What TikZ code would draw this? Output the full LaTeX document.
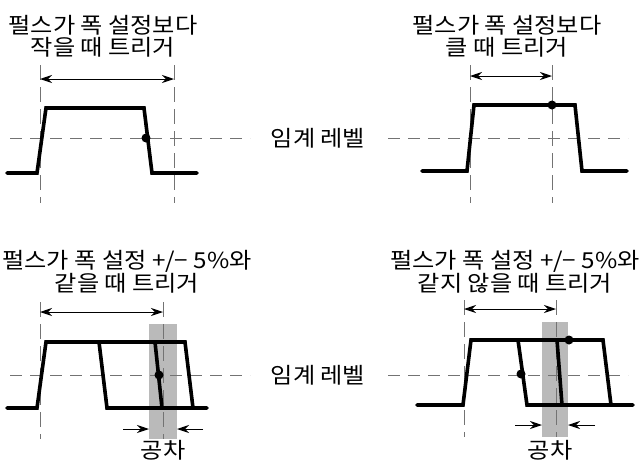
\documentclass[tikz,border=0pt]{standalone}
\usepackage{fontspec}
\setmainfont[FakeStretch=1.1]{Noto Sans CJK KR}
\usetikzlibrary{arrows.meta}
\tikzset{
  pulse/.style={line width=3.6pt, line join=miter, line cap=round},
  thr/.style={draw=black!55, line width=0.8pt, dash pattern=on 12pt off 8pt},
  vln/.style={draw=black!55, line width=0.8pt, dash pattern=on 15pt off 7pt},
  dim/.style={line width=1pt, {Stealth[length=12pt,width=8pt]}-{Stealth[length=12pt,width=8pt]}},
  tol/.style={line width=1pt, -{Stealth[length=12pt,width=8pt]}},
  dot/.style={fill=black},
  band/.style={fill=black!27},
  lbl/.style={font=\fontsize{22}{22}\selectfont, align=center, inner sep=0pt},
}
\begin{document}
\begin{tikzpicture}[x=1pt,y=-1pt]
\useasboundingbox (0,0) rectangle (641,464);
% ---------- top-left ----------
\node[lbl] (t1) at (103,36) {펄스가 폭 설정보다\\작을 때 트리거};
\draw[thr] (10,138) -- (250,138);
\draw[vln] (40,65) -- (40,203);
\draw[vln] (174,65) -- (174,203);
\coordinate (a1l) at (40,79); \coordinate (a1r) at (174,79);
\draw[dim] (a1l) -- (a1r);
\draw[pulse] (7,173) -- (37,173) -- (46,108) -- (144,108) -- (152,173) -- (197,173);
\fill[dot] (146,138) circle (4.5pt);
% ---------- top-right ----------
\node[lbl] (t2) at (507,36) {펄스가 폭 설정보다\\클 때 트리거};
\draw[thr] (388,138) -- (628,138);
\draw[vln] (470,65) -- (470,203);
\draw[vln] (552,65) -- (552,203);
\coordinate (a2l) at (470,76); \coordinate (a2r) at (552,76);
\draw[dim] (a2l) -- (a2r);
\draw[pulse] (422,171) -- (467,171) -- (474,105) -- (575,105) -- (582,171) -- (627,171);
\fill[dot] (552,105) circle (4.5pt);
% ---------- middle labels ----------
\node[lbl] (lv1) at (318,138) {임계 레벨};
\node[lbl] (lv2) at (318,375) {임계 레벨};
% ---------- bottom-left ----------
\node[lbl] (t3) at (127,272) {펄스가 폭 설정 +/− 5\%와\\같을 때 트리거};
\fill[band] (149,324) rectangle (177,439);
\draw[thr] (10,375) -- (250,375);
\draw[vln] (40,302) -- (40,439);
\draw[vln] (163,302) -- (163,439);
\coordinate (a3l) at (40,312); \coordinate (a3r) at (163,312);
\draw[dim] (a3l) -- (a3r);
\draw[pulse] (7,408) -- (37,408) -- (46,342) -- (185,342) -- (193,408) -- (207,408);
\draw[pulse] (99,342) -- (107,408) -- (193,408);
\draw[pulse] (155,342) -- (162,408);
\fill[dot] (159,375) circle (4.5pt);
\coordinate (b3l) at (123,429); \coordinate (b3r) at (203,429);
\coordinate (c3l) at (149,429); \coordinate (c3r) at (177,429);
\draw[tol] (b3l) -- (c3l);
\draw[tol] (b3r) -- (c3r);
\node[lbl] (g3) at (163,450) {공차};
% ---------- bottom-right ----------
\node[lbl] (t4) at (515,272) {펄스가 폭 설정 +/− 5\%와\\같지 않을 때 트리거};
\fill[band] (542,322) rectangle (568,437);
\draw[thr] (388,375) -- (628,375);
\draw[vln] (464,300) -- (464,437);
\draw[vln] (556,300) -- (556,437);
\coordinate (a4l) at (464,309); \coordinate (a4r) at (556,309);
\draw[dim] (a4l) -- (a4r);
\draw[pulse] (417,405) -- (463,405) -- (471,340) -- (603,340) -- (611,405) -- (633,405);
\draw[pulse] (518,340) -- (527,405) -- (611,405);
\draw[pulse] (557,340) -- (562,405);
\fill[dot] (521,374) circle (4.5pt);
\fill[dot] (569,340) circle (4.5pt);
\coordinate (b4l) at (515,425); \coordinate (b4r) at (595,425);
\coordinate (c4l) at (542,425); \coordinate (c4r) at (568,425);
\draw[tol] (b4l) -- (c4l);
\draw[tol] (b4r) -- (c4r);
\node[lbl] (g4) at (550,450) {공차};
\end{tikzpicture}
\end{document}
